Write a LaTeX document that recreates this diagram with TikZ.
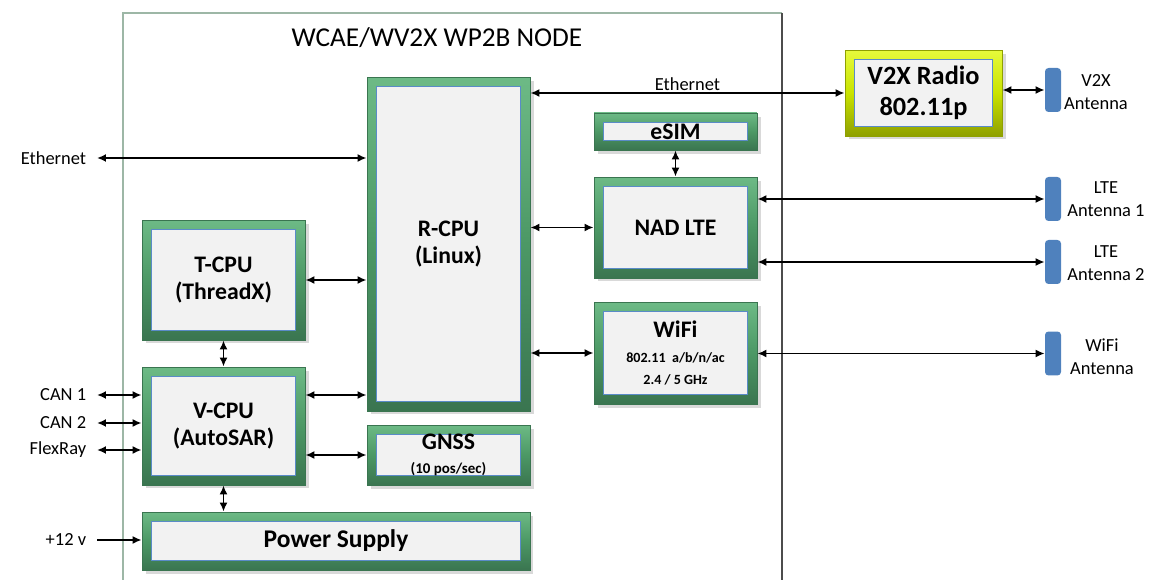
\documentclass[tikz,border=0pt]{standalone}
\usepackage{fontspec}
\setmainfont{Carlito}
\usetikzlibrary{arrows.meta,shadows}

\definecolor{blkgreen}{HTML}{4C9865}
\definecolor{blklight}{HTML}{6DBA86}
\definecolor{blkdark}{HTML}{3A7550}
\definecolor{innergray}{HTML}{F2F2F2}
\definecolor{innerblue}{HTML}{5A8BC8}
\definecolor{radioyel}{HTML}{C9E300}
\definecolor{radiolight}{HTML}{E6FA3C}
\definecolor{radiodark}{HTML}{8FA000}
\definecolor{antblue}{HTML}{4F81BD}
\definecolor{framegreen}{HTML}{9DB7A6}

\begin{document}
\begin{tikzpicture}[x=0.02cm, y=-0.02cm,
    blk/.style={draw=blkdark, top color=blklight, bottom color=blkdark, middle color=blkgreen,
      line width=0.5pt, inner sep=0pt, align=center, font=\fontsize{13.5}{15.5}\selectfont\bfseries,
      drop shadow={opacity=0.3, shadow xshift=2pt, shadow yshift=-2pt},
      path picture={\draw[draw=innerblue, fill=innergray, line width=0.5pt]
        ([shift={(0.19cm,-0.19cm)}]path picture bounding box.north west) rectangle
        ([shift={(-0.19cm,0.19cm)}]path picture bounding box.south east);}},
    radiobox/.style={blk, draw=radiodark, top color=radiolight, bottom color=radiodark, middle color=radioyel,
      font=\fontsize{15}{18}\selectfont\bfseries},
    ant/.style={fill=antblue, rounded corners=2pt, minimum width=0.32cm, minimum height=0.88cm, inner sep=0pt},
    side/.style={anchor=east, inner xsep=6pt, font=\fontsize{10.5}{12}\selectfont},
    antlabel/.style={align=center, font=\fontsize{10.5}{13}\selectfont},
    arr/.style={{Latex[length=1.8mm,width=1.6mm]}-{Latex[length=1.8mm,width=1.6mm]}, line width=1pt},
    arrone/.style={-{Latex[length=1.8mm,width=1.6mm]}, line width=1pt}
]
\useasboundingbox (0,0) rectangle (1150,580);

% node frame
\draw[framegreen, line width=1pt] (123,580) -- (123,13) -- (782,13);
\draw[black!70, line width=1.5pt] (782,13) -- (782,580);
\node[font=\fontsize{15.5}{18}\selectfont] (title) at (437,38) {WCAE/WV2X WP2B NODE};

% blocks
\node[blk, minimum width=3.26cm, minimum height=6.68cm] (rcpu) at (448.5,244) {R-CPU\\(Linux)};
\node[blk, minimum width=3.26cm, minimum height=2.4cm] (tcpu) at (223.5,280) {T-CPU\\(ThreadX)};
\node[blk, minimum width=3.26cm, minimum height=2.36cm] (vcpu) at (223.5,426) {V-CPU\\(AutoSAR)};
\node[blk, minimum width=3.26cm, minimum height=1.2cm] (gnss) at (448.5,455)
  {GNSS\\[-2pt]{\fontsize{8.5}{10}\selectfont(10 pos/sec)}};
\node[blk, minimum width=7.76cm, minimum height=1.16cm, font=\fontsize{14.5}{16}\selectfont\bfseries] (power) at (336,541) {Power Supply};
\node[blk, minimum width=3.26cm, minimum height=0.74cm] (esim) at (675.5,131.5) {eSIM};
\node[blk, minimum width=3.26cm, minimum height=2.02cm] (nad) at (675.5,227.5) {NAD LTE};
\node[blk, minimum width=3.26cm, minimum height=2.04cm] (wifi) at (675.5,353)
  {WiFi\\[-1pt]{\fontsize{8}{10}\selectfont 802.11~ a/b/n/ac}\\[-3pt]{\fontsize{8}{10}\selectfont 2.4 / 5 GHz}};
\node[radiobox, minimum width=3.14cm, minimum height=1.72cm] (radio) at (923.5,93) {V2X Radio\\802.11p};

% antennas
\node[ant] (antv) at (1053,90) {};
\node[ant] (antl1) at (1053,199) {};
\node[ant] (antl2) at (1053,262) {};
\node[ant] (antw) at (1053,353.5) {};
\node[antlabel] (antvtxt) at (1096,92) {V2X\\Antenna};
\node[antlabel] (antl1txt) at (1106,199) {LTE\\Antenna 1};
\node[antlabel] (antl2txt) at (1106,263) {LTE\\Antenna 2};
\node[antlabel] (antwtxt) at (1102,357) {WiFi\\Antenna};

% outside signals
\node[side] (eth) at (97,158) {Ethernet};
\node[side] (can1) at (97,395) {CAN 1};
\node[side] (can2) at (97,423) {CAN 2};
\node[side] (flex) at (97,450) {FlexRay};
\node[side] (pwr) at (97,540) {+12 v};

% connections
\draw[arr] (eth) -- (eth -| rcpu.west);
\draw[arr] (can1) -- (can1 -| vcpu.west);
\draw[arr] (can2) -- (can2 -| vcpu.west);
\draw[arr] (flex) -- (flex -| vcpu.west);
\draw[arrone] (pwr) -- (pwr -| power.west);
\draw[arr] (tcpu.east) -- (tcpu.east -| rcpu.west);
\draw[arr] (tcpu.south) -- (vcpu.north);
\draw[arr] (vcpu.east |- can1) -- (can1 -| rcpu.west);
\draw[arr] (vcpu.east |- gnss) -- (gnss.west);
\draw[arr] (vcpu.south) -- (vcpu.south |- power.north);
\draw[arr] (rcpu.east |- radio) -- node[above, inner sep=1pt, font=\fontsize{10.5}{12}\selectfont] (ethtxt) {Ethernet} (radio.west);
\draw[arr] (radio.east |- antv) -- (antv.west);
\draw[arr] (esim.south) -- (nad.north);
\draw[arr] (rcpu.east |- nad) -- (nad.west);
\draw[arr] (nad.east |- antl1) -- (antl1.west);
\draw[arr] (nad.east |- antl2) -- (antl2.west);
\draw[arr] (rcpu.east |- wifi) -- (wifi.west);
\draw[arr] (wifi.east |- antw) -- (antw.west);
\end{tikzpicture}
\end{document}
